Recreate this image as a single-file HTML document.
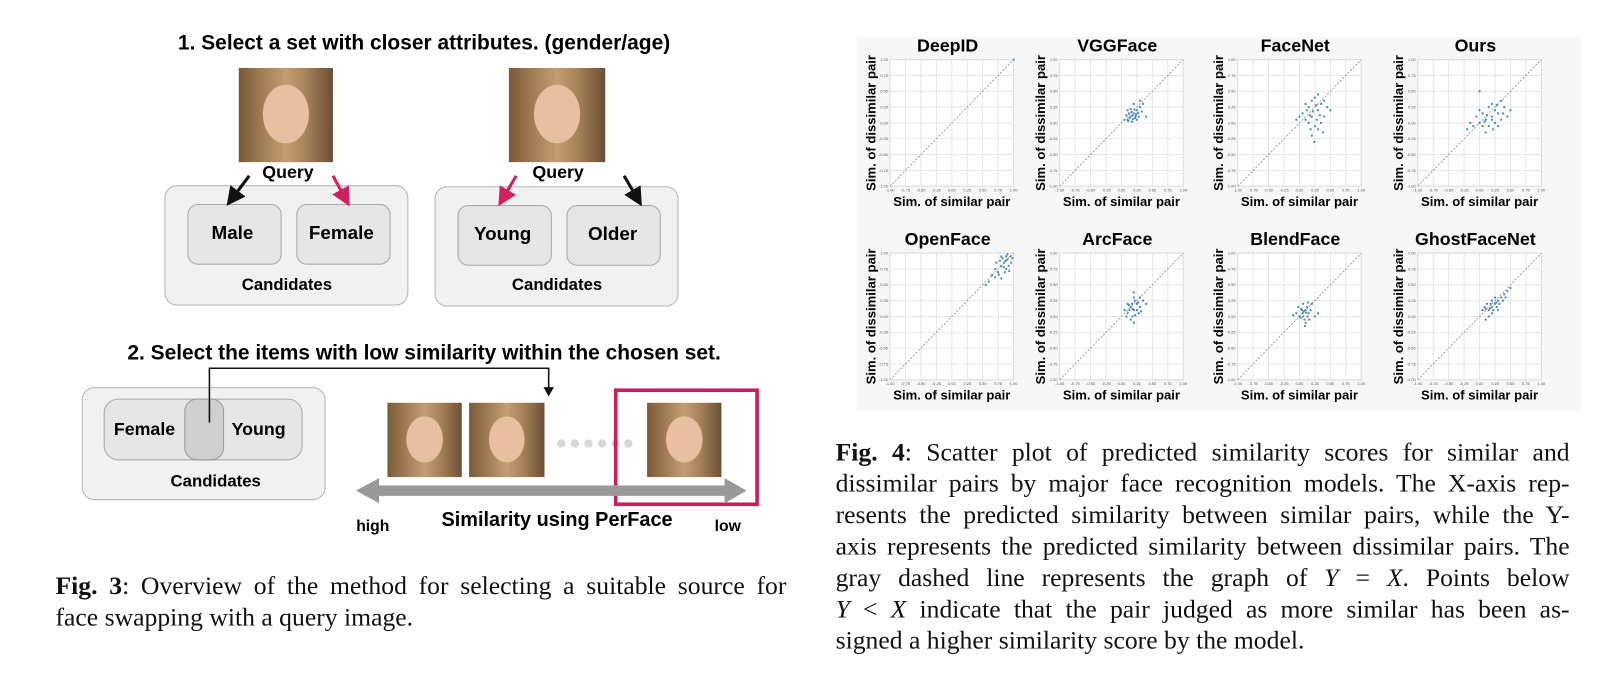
<!DOCTYPE html>
<html><head><meta charset="utf-8">
<style>
html,body{margin:0;padding:0;background:#fff;width:1623px;height:680px;overflow:hidden}
#wrap{position:absolute;left:0;top:0;width:1550px;height:650px;transform:scale(1.0471,1.0462);transform-origin:0 0;font-family:"Liberation Sans",sans-serif}
.a{position:absolute}
.b{font-weight:bold}
.t{position:absolute;white-space:nowrap;transform:translate(-50%,-50%)}
.box{position:absolute;background:#f1f1f1;border:1.5px solid #b5b5b5;border-radius:12px}
.ibox{position:absolute;background:#e6e6e6;border:1.5px solid #a8a8a8;border-radius:10px}
.face{position:absolute;background:linear-gradient(90deg,#7a5a3a,#a8845a 30%,#c49c74 50%,#a8845a 70%,#6d5035);overflow:hidden}
.face::after{content:"";position:absolute;left:26%;top:18%;width:48%;height:62%;border-radius:50%;background:#e8bfa0}
.cap{position:absolute;font-family:"Liberation Serif",serif;font-size:24.5px;line-height:30px;color:#111}
.cap div{text-align:justify;text-align-last:justify;white-space:nowrap}
.cap div.last{text-align-last:left}
</style></head><body>
<div id="wrap">
<!-- Fig 3 -->
<div class="t b" style="left:405px;top:42px;font-size:20px">1. Select a set with closer attributes. (gender/age)</div>
<div class="face" style="left:228px;top:65px;width:90px;height:90px"></div>
<div class="face" style="left:486px;top:65px;width:92px;height:90px"></div>
<div class="t b" style="left:275px;top:165px;font-size:17px">Query</div>
<div class="t b" style="left:533px;top:165px;font-size:17px">Query</div>
<div class="box" style="left:157px;top:177px;width:231px;height:113px"></div>
<div class="ibox" style="left:179px;top:195px;width:88px;height:56px"></div>
<div class="ibox" style="left:283px;top:195px;width:88px;height:56px"></div>
<div class="t b" style="left:222px;top:223px;font-size:18px">Male</div>
<div class="t b" style="left:326px;top:223px;font-size:18px">Female</div>
<div class="t b" style="left:274px;top:273px;font-size:16px">Candidates</div>
<div class="box" style="left:415px;top:178px;width:231px;height:113px"></div>
<div class="ibox" style="left:437px;top:196px;width:88px;height:56px"></div>
<div class="ibox" style="left:541px;top:196px;width:88px;height:56px"></div>
<div class="t b" style="left:480px;top:224px;font-size:18px">Young</div>
<div class="t b" style="left:585px;top:224px;font-size:18px">Older</div>
<div class="t b" style="left:532px;top:273px;font-size:16px">Candidates</div>
<svg class="a" style="left:0;top:0" width="760" height="520">
<defs>
<marker id="mk" markerWidth="6" markerHeight="6" refX="4" refY="3" orient="auto"><path d="M0,0 L6,3 L0,6 z" fill="#111"/></marker>
<marker id="mp" markerWidth="6" markerHeight="6" refX="4" refY="3" orient="auto"><path d="M0,0 L6,3 L0,6 z" fill="#d0205f"/></marker>
</defs>
<line x1="238" y1="168" x2="220" y2="192" stroke="#111" stroke-width="3" marker-end="url(#mk)"/>
<line x1="318" y1="168" x2="331" y2="192" stroke="#d0205f" stroke-width="3" marker-end="url(#mp)"/>
<line x1="493" y1="168" x2="479" y2="192" stroke="#d0205f" stroke-width="3" marker-end="url(#mp)"/>
<line x1="596" y1="168" x2="610" y2="192" stroke="#111" stroke-width="3" marker-end="url(#mk)"/>
</svg>
<div class="t b" style="left:405px;top:338px;font-size:20px">2. Select the items with low similarity within the chosen set.</div>
<div class="box" style="left:78px;top:370px;width:231px;height:106px"></div>
<div class="ibox" style="left:99px;top:381px;width:188px;height:57px;border-radius:14px"></div>
<div class="a" style="left:176px;top:381px;width:36px;height:57px;background:#cfcfcf;border:1.5px solid #999;border-radius:12px"></div>
<div class="t b" style="left:138px;top:411px;font-size:17px">Female</div>
<div class="t b" style="left:247px;top:411px;font-size:17px">Young</div>
<div class="t b" style="left:206px;top:461px;font-size:16px">Candidates</div>
<div class="face" style="left:370px;top:385px;width:71px;height:71px"></div>
<div class="face" style="left:448px;top:385px;width:72px;height:71px"></div>
<div class="face" style="left:618px;top:385px;width:71px;height:71px"></div>
<svg class="a" style="left:0;top:0" width="760" height="520">
<polyline points="200,404 200,352 524,352 524,372" fill="none" stroke="#111" stroke-width="1.5"/>
<path d="M519,370 L529,370 L524,379 z" fill="#111"/>
<g fill="#d8d8d8"><circle cx="536" cy="424" r="4"/><circle cx="549" cy="424" r="4"/><circle cx="562" cy="424" r="4"/><circle cx="575" cy="424" r="4"/><circle cx="588" cy="424" r="4"/><circle cx="600" cy="424" r="4"/></g>
<rect x="588" y="373" width="135" height="109" fill="none" stroke="#c8205e" stroke-width="3.5"/>
<rect x="358" y="464" width="340" height="10" fill="#999"/>
<path d="M340,469 L362,457 L362,481 z" fill="#999"/>
<path d="M713,469 L692,457 L692,481 z" fill="#999"/>
</svg>
<div class="t b" style="left:356px;top:503px;font-size:15px">high</div>
<div class="t b" style="left:532px;top:498px;font-size:19px">Similarity using PerFace</div>
<div class="t b" style="left:695px;top:503px;font-size:15px">low</div>
<div class="cap" style="left:53px;top:546px;width:698px">
<div><b>Fig. 3</b>: Overview of the method for selecting a suitable source for</div>
<div class="last">face swapping with a query image.</div>
</div>

<!-- Fig 4 -->
<div class="a" style="left:818px;top:35px;width:692px;height:358px;background:#f7f7f7"></div>
<svg id="sc" class="a" style="left:0;top:0" width="1550" height="400"></svg>
<div class="cap" style="left:798px;top:418px;width:701px">
<div><b>Fig. 4</b>: Scatter plot of predicted similarity scores for similar and</div>
<div>dissimilar pairs by major face recognition models. The X-axis rep-</div>
<div>resents the predicted similarity between similar pairs, while the Y-</div>
<div>axis represents the predicted similarity between dissimilar pairs. The</div>
<div>gray dashed line represents the graph of <i>Y</i> = <i>X</i>. Points below</div>
<div><i>Y</i> &lt; <i>X</i> indicate that the pair judged as more similar has been as-</div>
<div class="last">signed a higher similarity score by the model.</div>
</div>
</div>
<script>
const models = ["DeepID","VGGFace","FaceNet","Ours","OpenFace","ArcFace","BlendFace","GhostFaceNet"];
const tickLabels = ["-1.00","-0.75","-0.50","-0.25","0.00","0.25","0.50","0.75","1.00"];
const tickValues = [-1,-0.75,-0.5,-0.25,0,0.25,0.5,0.75,1];
const ptsDeepID = [[1,1]];
const ptsVGGFace = [[0.1,0.05],[0.15,0.1],[0.2,0.15],[0.25,0.2],[0.18,0.12],[0.22,0.08],[0.12,0.15],[0.3,0.25],[0.28,0.1],[0.05,0.05],[0.2,0.3],[0.15,0.22],[0.25,0.05],[0.33,0.18],[0.1,0.2],[0.17,0.02],[0.24,0.14],[0.08,0.12],[0.35,0.3],[0.3,0.35],[0.13,0.08],[0.21,0.21],[0.27,0.16],[0.19,0.06],[0.4,0.1],[0.16,0.17],[0.23,0.11],[0.11,0.03]];
const ptsFaceNet = [[0.2,0.1],[0.3,0.2],[0.1,0.05],[0.25,-0.05],[0.35,0.3],[0.15,0.25],[0.4,0.1],[0.05,0.15],[0.2,-0.2],[0.3,-0.1],[0.45,0.25],[0.25,0.4],[0.1,0.3],[0.35,0.0],[0.22,0.18],[0.28,0.05],[0.0,0.1],[0.18,-0.1],[0.4,0.35],[0.3,0.45],[0.15,0.0],[0.27,0.28],[0.38,-0.15],[0.12,0.2],[0.2,0.35],[0.33,0.12],[0.24,-0.3],[0.5,0.2],[-0.05,0.05],[0.17,0.12]];
const ptsOurs = [[0.1,0.05],[0.2,0.1],[0.0,0.0],[0.3,0.15],[0.15,-0.05],[0.25,0.2],[-0.1,-0.05],[0.35,0.05],[0.05,0.15],[0.2,0.3],[0.4,0.25],[-0.2,-0.1],[0.1,-0.15],[0.3,-0.05],[0.45,0.1],[0.0,0.2],[0.15,0.25],[0.25,0.0],[0.05,-0.05],[0.35,0.35],[-0.05,0.1],[0.2,0.05],[0.5,0.2],[0.12,0.12],[0.28,0.28],[-0.15,0.0],[0.38,0.15],[0.08,0.02],[0.0,0.5],[0.22,-0.1]];
const ptsOpenFace = [[0.85,0.85],[0.8,0.8],[0.9,0.9],[0.75,0.7],[0.88,0.75],[0.95,0.95],[0.7,0.75],[0.82,0.92],[0.92,0.8],[0.78,0.88],[0.86,0.7],[0.65,0.65],[0.9,0.98],[0.8,0.6],[0.72,0.85],[0.96,0.85],[0.84,0.78],[0.6,0.55],[0.88,0.95],[0.76,0.66],[0.93,0.72],[0.55,0.5],[0.8,0.95],[0.87,0.88],[0.7,0.62],[0.98,0.92]];
const ptsArcFace = [[0.2,0.1],[0.15,0.15],[0.25,0.2],[0.1,0.05],[0.3,0.15],[0.18,0.0],[0.22,0.25],[0.12,0.18],[0.28,0.05],[0.05,0.1],[0.2,0.3],[0.35,0.25],[0.15,-0.05],[0.25,0.1],[0.1,0.2],[0.3,0.3],[0.18,0.12],[0.22,0.02],[0.08,0.0],[0.27,0.22],[0.13,0.1],[0.2,-0.1],[0.32,0.08],[0.17,0.2],[0.2,0.38],[0.4,0.2]];
const ptsBlendFace = [[0.05,0.05],[0.1,0.1],[0.0,0.0],[0.08,-0.05],[0.12,0.15],[0.03,0.12],[0.15,0.05],[-0.05,0.05],[0.1,-0.1],[0.06,0.2],[0.18,0.1],[0.02,-0.02],[0.13,0.0],[0.07,0.08],[-0.02,0.15],[0.2,0.2],[0.09,-0.15],[0.04,0.1],[0.16,-0.05],[0.11,0.06],[-0.1,0.02],[0.25,0.0],[0.14,0.22],[0.06,0.0],[0.3,0.05]];
const ptsGhost = [[0.2,0.15],[0.25,0.2],[0.15,0.1],[0.3,0.25],[0.1,0.12],[0.35,0.3],[0.2,0.05],[0.28,0.15],[0.05,0.1],[0.4,0.35],[0.18,0.2],[0.22,0.1],[0.12,0.2],[0.32,0.2],[0.45,0.4],[0.25,0.3],[0.15,0.0],[0.38,0.25],[0.08,0.15],[0.3,0.1],[0.2,0.25],[0.42,0.3],[0.27,0.22],[0.17,0.13],[0.5,0.45],[0.1,-0.05]];
const allPts = [ptsDeepID,ptsVGGFace,ptsFaceNet,ptsOurs,ptsOpenFace,ptsArcFace,ptsBlendFace,ptsGhost];

const NS="http://www.w3.org/2000/svg";
const svg=document.getElementById('sc');
const colX=[850,1012,1182,1354], rowY=[57,242], PW=118, PH=121;
function mk(tag,attrs,parent){const e=document.createElementNS(NS,tag);for(const k in attrs)e.setAttribute(k,attrs[k]);(parent||svg).appendChild(e);return e;}
models.forEach((m,i)=>{
  const x0=colX[i%4], y0=rowY[Math.floor(i/4)];
  const sx=v=>x0+(v+1)/2*PW, sy=v=>y0+PH-(v+1)/2*PH;
  const g=mk('g',{});
  
  
  const bg=mk('rect',{x:x0,y:y0,width:PW,height:PH,fill:'#fff',stroke:'#bbb','stroke-width':0.8},g);
  
  
  tickValues.forEach((tv,k)=>{
    mk('line',{x1:sx(tv),x2:sx(tv),y1:y0,y2:y0+PH,stroke:'#e2e2e2','stroke-width':0.8},g);
    mk('line',{x1:x0,x2:x0+PW,y1:sy(tv),y2:sy(tv),stroke:'#e2e2e2','stroke-width':0.8},g);
    const xt=mk('text',{x:sx(tv),y:y0+PH+5,'font-size':3.8,'text-anchor':'middle',fill:'#555'},g);
    xt.textContent=tickLabels[k];
    
    
    const yt=mk('text',{x:x0-2,y:sy(tv)+1.3,'font-size':3.8,'text-anchor':'end',fill:'#555'},g);
    yt.textContent=tickLabels[k];
    
    
  });
  const d=mk('line',{x1:sx(-1),y1:sy(-1),x2:sx(1),y2:sy(1),stroke:'#999','stroke-width':0.9,'stroke-dasharray':'2,1.5'},g);
  
  
  allPts[i].forEach(p=>{
    const c=mk('circle',{cx:sx(p[0]),cy:sy(p[1]),r:1.1,fill:'#2f78b4','fill-opacity':0.85},g);
    
    
  });
  const t=mk('text',{x:x0+PW/2-4,y:y0-8,'font-size':17,'font-weight':'bold','text-anchor':'middle','font-family':'Liberation Sans'},g);
  t.textContent=m;
  
  
  const xl=mk('text',{x:x0+PW/2,y:y0+PH+19,'font-size':12.5,'font-weight':'bold','text-anchor':'middle','font-family':'Liberation Sans'},g);
  xl.textContent='Sim. of similar pair';
  
  
  const yl=mk('text',{x:0,y:0,'font-size':12.5,'font-weight':'bold','text-anchor':'middle','font-family':'Liberation Sans',transform:`translate(${x0-14},${y0+PH/2}) rotate(-90)`},g);
  yl.textContent='Sim. of dissimilar pair';
  
  
});
</script>
</body></html>
